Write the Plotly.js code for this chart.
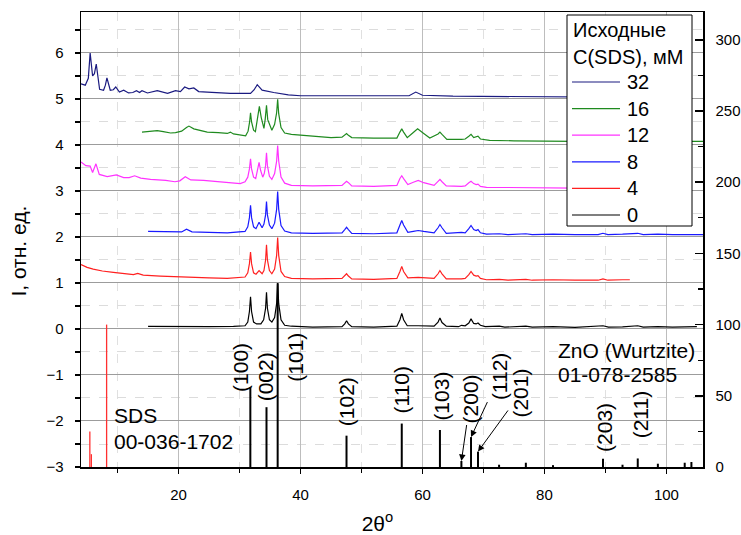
<!DOCTYPE html>
<html>
<head>
<meta charset="utf-8">
<script src="https://cdn.plot.ly/plotly-3.0.1.min.js"></script>
<style>html,body{margin:0;padding:0;background:#fff}#chart{width:741px;height:535px}</style>
</head>
<body>
<div id="chart"></div>
<script>
// ---- data ----
const seriesNames = ['32', '16', '12', '8', '4', '0'];
const seriesColors = ['#1a1a80', '#1f8a1f', '#ff33ff', '#1a1aff', '#ff2020', '#000000'];
const legendTitle = ['Исходные', 'C(SDS), мМ'];

const curve32 = [[4,5.33],[4.7,5.30],[5.2,5.45],[5.5,6.0],[5.9,5.50],[6.2,5.55],[6.5,5.76],[7.05,5.21],[7.7,5.19],[8.0,5.30],[8.25,5.46],[8.8,5.19],[9.3,5.20],[9.7,5.26],[10.3,5.15],[11.0,5.19],[11.8,5.13],[12.5,5.14],[13.1,5.18],[13.6,5.14],[14.0,5.18],[14.9,5.13],[16.5,5.18],[18.2,5.12],[19.5,5.18],[20.3,5.16],[21.0,5.26],[21.7,5.22],[22.5,5.24],[23.3,5.16],[24.7,5.15],[26.5,5.13],[28.5,5.12],[31.8,5.12],[32.4,5.2],[32.9,5.31],[33.7,5.19],[35.6,5.14],[38,5.09],[40,5.07],[45,5.07],[50,5.06],[55,5.06],[57.8,5.07],[58.9,5.15],[60,5.08],[65,5.06],[72.8,5.05],[80,5.04],[90,5.04],[97,5.04]];

const curve16 = [[14,4.28],[15.5,4.30],[16.5,4.31],[17.5,4.29],[18.7,4.26],[19.5,4.27],[20.5,4.30],[21.3,4.38],[21.7,4.41],[22.5,4.35],[24.7,4.28],[26.5,4.27],[28.0,4.25],[28.5,4.28],[29.0,4.24],[31,4.20],[31.4,4.3],[31.65,4.5],[31.8,4.70],[31.97,4.5],[32.3,4.32],[32.6,4.29],[32.9,4.55],[33.25,4.84],[33.55,4.6],[34.0,4.36],[34.2,4.55],[34.42,4.86],[34.62,4.55],[35.3,4.32],[35.75,4.45],[36.08,4.7],[36.25,4.99],[36.42,4.68],[36.8,4.38],[37.4,4.26],[38.5,4.23],[42,4.19],[45,4.16],[46.8,4.17],[47.25,4.22],[47.55,4.25],[47.85,4.21],[48.4,4.16],[52,4.15],[55.8,4.15],[56.3,4.28],[56.6,4.35],[56.9,4.28],[57.5,4.16],[58.3,4.25],[59.2,4.35],[60.2,4.25],[61.2,4.15],[62.55,4.24],[62.86,4.28],[63.2,4.23],[64,4.12],[66.4,4.12],[67.0,4.13],[67.6,4.19],[67.96,4.23],[68.4,4.16],[68.8,4.17],[69.1,4.19],[69.5,4.13],[71,4.10],[75,4.09],[80,4.09],[85,4.08],[89.6,4.10],[92,4.08],[100,4.08],[106,4.08]];

const curve12 = [[4,3.63],[4.8,3.55],[5.5,3.54],[5.9,3.40],[6.45,3.59],[7.0,3.36],[8.3,3.31],[9.8,3.35],[11.0,3.29],[11.9,3.29],[12.8,3.33],[13.8,3.28],[15.4,3.25],[17.9,3.23],[19.4,3.20],[20.2,3.22],[21.1,3.31],[22.0,3.24],[24.1,3.23],[26,3.21],[28,3.18],[30.1,3.16],[30.9,3.2],[31.35,3.3],[31.62,3.48],[31.8,3.70],[31.97,3.48],[32.3,3.3],[32.65,3.27],[32.95,3.45],[33.2,3.62],[33.45,3.45],[33.8,3.3],[34.05,3.38],[34.27,3.55],[34.42,3.83],[34.57,3.55],[34.9,3.32],[35.3,3.25],[35.75,3.38],[36.08,3.65],[36.25,3.99],[36.42,3.65],[36.8,3.3],[37.4,3.17],[38.5,3.12],[42,3.11],[46.8,3.12],[47.25,3.18],[47.55,3.21],[47.85,3.18],[48.4,3.11],[52,3.10],[55.8,3.12],[56.3,3.27],[56.6,3.33],[56.9,3.27],[57.6,3.14],[58.5,3.19],[59.3,3.23],[60.2,3.18],[61.9,3.12],[62.55,3.21],[62.86,3.25],[63.2,3.2],[63.9,3.11],[66.4,3.10],[67.0,3.11],[67.6,3.18],[67.96,3.21],[68.4,3.16],[68.8,3.14],[69.1,3.15],[69.5,3.10],[70.5,3.08],[75,3.07],[80,3.07],[85,3.06],[89.6,3.08],[92,3.06],[96,3.06]];

const curve8 = [[15,2.12],[18,2.11],[20.5,2.11],[21.3,2.17],[22.2,2.11],[25,2.10],[28,2.09],[30.9,2.12],[31.35,2.22],[31.62,2.42],[31.8,2.69],[31.97,2.42],[32.3,2.22],[32.7,2.18],[33.2,2.32],[33.7,2.2],[34.0,2.28],[34.27,2.48],[34.42,2.77],[34.57,2.48],[34.9,2.26],[35.3,2.18],[35.75,2.3],[36.08,2.6],[36.25,2.99],[36.42,2.6],[36.8,2.25],[37.4,2.13],[38.5,2.09],[42,2.08],[46.8,2.09],[47.25,2.16],[47.55,2.21],[47.85,2.16],[48.4,2.08],[52,2.07],[55.8,2.09],[56.3,2.26],[56.6,2.36],[56.9,2.26],[57.6,2.10],[58.5,2.12],[59.3,2.14],[60.2,2.12],[61.9,2.09],[62.55,2.2],[62.86,2.27],[63.2,2.2],[63.9,2.08],[66.4,2.10],[67.0,2.09],[67.6,2.18],[67.96,2.25],[68.4,2.16],[68.8,2.14],[69.1,2.16],[69.5,2.09],[70.5,2.06],[72.6,2.07],[74,2.05],[76.95,2.07],[78,2.05],[81.4,2.06],[85,2.05],[88.8,2.05],[89.6,2.08],[90.4,2.05],[92.8,2.06],[95.3,2.08],[96.2,2.05],[98.6,2.06],[101,2.05],[104.1,2.06],[106,2.05]];

const curve4 = [[4,1.40],[5,1.34],[6,1.30],[7.5,1.26],[9.3,1.23],[11,1.20],[12.6,1.18],[13.3,1.21],[14.2,1.17],[17,1.15],[20.3,1.13],[22,1.12],[25,1.11],[28,1.10],[30.9,1.13],[31.35,1.22],[31.62,1.42],[31.8,1.67],[31.97,1.42],[32.3,1.22],[32.7,1.19],[33.2,1.27],[33.7,1.2],[34.0,1.27],[34.27,1.5],[34.42,1.83],[34.57,1.5],[34.9,1.27],[35.3,1.2],[35.75,1.3],[36.08,1.6],[36.25,1.99],[36.42,1.6],[36.8,1.25],[37.4,1.14],[38.5,1.1],[42,1.09],[46.8,1.10],[47.25,1.15],[47.55,1.20],[47.85,1.15],[48.4,1.09],[52,1.08],[55.8,1.10],[56.3,1.25],[56.6,1.36],[56.9,1.25],[57.6,1.11],[59.3,1.12],[61.9,1.10],[62.55,1.2],[62.86,1.27],[63.2,1.2],[63.9,1.09],[66.4,1.09],[67.0,1.1],[67.6,1.18],[67.96,1.25],[68.4,1.17],[68.8,1.15],[69.1,1.16],[69.5,1.10],[70.5,1.07],[72.6,1.08],[74,1.06],[76.95,1.08],[78,1.06],[81.4,1.07],[85,1.06],[88.8,1.06],[89.6,1.09],[90.4,1.06],[92.8,1.07],[94,1.07]];

const curve0 = [[15,0.057],[20,0.05],[25,0.05],[29,0.055],[30.9,0.07],[31.35,0.15],[31.62,0.38],[31.8,0.70],[31.97,0.38],[32.3,0.15],[32.8,0.11],[33.5,0.11],[33.95,0.2],[34.27,0.45],[34.42,0.80],[34.57,0.45],[34.9,0.2],[35.3,0.15],[35.75,0.25],[36.08,0.55],[36.25,1.0],[36.42,0.55],[36.8,0.2],[37.4,0.08],[38.5,0.06],[42,0.04],[46.8,0.05],[47.25,0.11],[47.55,0.18],[47.85,0.11],[48.4,0.05],[52,0.04],[55.8,0.06],[56.3,0.2],[56.6,0.34],[56.9,0.2],[57.5,0.07],[59.3,0.07],[61.9,0.06],[62.55,0.15],[62.86,0.24],[63.2,0.14],[63.9,0.06],[65.9,0.05],[66.4,0.08],[67.0,0.07],[67.6,0.13],[67.96,0.22],[68.4,0.12],[68.8,0.11],[69.1,0.13],[69.5,0.08],[70.3,0.05],[72.6,0.06],[73.5,0.04],[76.95,0.06],[78,0.04],[81.4,0.05],[85,0.035],[89.6,0.07],[90.5,0.04],[92.8,0.045],[95.3,0.07],[96.2,0.04],[98.6,0.05],[101,0.04],[103,0.05],[104.1,0.06],[105,0.05]];

const curves = [curve32, curve16, curve12, curve8, curve4, curve0];

// reference stick patterns (right axis)
const znoPos = [31.77, 34.42, 36.25, 47.54, 56.6, 62.86, 66.38, 67.96, 69.1, 72.56, 76.95, 81.4, 89.6, 92.8, 95.3, 98.6, 103.0, 104.1];
const znoInt = [56, 42, 129, 22, 30.5, 26, 4.2, 21, 10.8, 1.6, 3, 1.3, 5.8, 1.6, 6, 2.3, 3, 3.5];
const znoHkl = ['(100)','(002)','(101)','(102)','(110)','(103)','(200)','(112)','(201)','','','','(203)','','(211)','','',''];
const sdsPos = [5.45, 5.7, 8.2];
const sdsInt = [25, 9, 100];

// ---- styles / placement ----
const FONT = 'Liberation Sans, Arial, sans-serif';
const labelPlace = {
  '(100)': {dx: -10, y: -0.84},
  '(002)': {dx: -1, y: -1.04},
  '(101)': {dx: 17, y: -0.61},
  '(102)': {dx: 0, y: -1.58},
  '(110)': {dx: 0, y: -1.32},
  '(103)': {dx: 2, y: -1.45},
  '(200)': {arrow: [9, -62]},
  '(112)': {arrow: [28, -60]},
  '(201)': {arrow: [43, -59]},
  '(203)': {dx: 2, y: -2.13},
  '(211)': {dx: 3, y: -1.86}
};
// legend geometry in pixels of the figure (plot area: x 81..703, y 12..467)
const PX = px => (px - 81) / 622, PY = py => (467 - py) / 455;
const legBox = {x0: 567, x1: 692, y0: 15, y1: 226};
const legTitleY = [30, 57], legRowY0 = 82, legRowDy = 26.6;

function sticks(pos, h) {
  const x = [], y = [];
  pos.forEach((p, i) => { x.push(p, p, null); y.push(0, h[i], null); });
  return {x, y};
}

const traces = [];
curves.forEach((c, i) => {
  traces.push({
    type: 'scatter', mode: 'lines', name: seriesNames[i], showlegend: false,
    x: c.map(p => p[0]), y: c.map(p => p[1]),
    line: {color: seriesColors[i], width: 1.2}
  });
});
const zs = sticks(znoPos, znoInt);
traces.push({type: 'scatter', mode: 'lines', x: zs.x, y: zs.y, yaxis: 'y2', showlegend: false,
  line: {color: '#000', width: 2}, hoverinfo: 'skip'});
const ss = sticks(sdsPos, sdsInt);
traces.push({type: 'scatter', mode: 'lines', x: ss.x, y: ss.y, yaxis: 'y2', showlegend: false,
  line: {color: '#ff3030', width: 1.3}, hoverinfo: 'skip'});

const F = s => ({family: FONT, size: s, color: '#000'});
const annotations = [];
znoHkl.forEach((t, i) => {
  if (!t) return;
  const pl = labelPlace[t];
  if (pl.arrow) {
    annotations.push({x: znoPos[i], y: znoInt[i], xref: 'x', yref: 'y2', text: t, textangle: -90,
      showarrow: true, ax: pl.arrow[0], ay: pl.arrow[1], arrowhead: 2, arrowsize: 1.3, arrowwidth: 1,
      arrowcolor: '#000', standoff: 0, font: F(21)});
  } else {
    annotations.push({x: znoPos[i], y: pl.y, xref: 'x', yref: 'y', xshift: pl.dx, text: t,
      textangle: -90, showarrow: false, xanchor: 'center', yanchor: 'middle', font: F(21)});
  }
});
const txt = (x, y, t) => ({x, y, xref: 'x', yref: 'y', text: t, showarrow: false, xanchor: 'left',
  yanchor: 'middle', font: F(21)});
annotations.push(txt(9.15, -1.89, 'SDS'));
annotations.push(txt(9.15, -2.45, '00-036-1702'));
annotations.push(txt(81.9, -0.46, 'ZnO (Wurtzite)'));
annotations.push(txt(81.9, -1.0, '01-078-2585'));

// legend (drawn as shapes + texts)
const shapes = [{type: 'rect', xref: 'paper', yref: 'paper', layer: 'above',
  x0: PX(legBox.x0), x1: PX(legBox.x1), y0: PY(legBox.y1), y1: PY(legBox.y0),
  fillcolor: '#fff', line: {color: '#000', width: 1}}];
legendTitle.forEach((t, k) => annotations.push({x: PX(571), y: PY(legTitleY[k]), xref: 'paper', yref: 'paper',
  text: t, xanchor: 'left', yanchor: 'middle', showarrow: false, font: F(20)}));
seriesNames.forEach((n, i) => {
  const py = legRowY0 + i * legRowDy;
  shapes.push({type: 'line', xref: 'paper', yref: 'paper', layer: 'above',
    x0: PX(572), x1: PX(620), y0: PY(py), y1: PY(py), line: {color: seriesColors[i], width: 1.2}});
  annotations.push({x: PX(625), y: PY(py), xref: 'paper', yref: 'paper', text: n, xanchor: 'left',
    yanchor: 'middle', showarrow: false, font: F(20)});
});

const layout = {
  width: 741, height: 535,
  margin: {l: 81, r: 38, t: 12, b: 68},
  paper_bgcolor: '#fff', plot_bgcolor: '#fff',
  font: {family: FONT, size: 15, color: '#000'},
  showlegend: false,
  xaxis: {
    title: {text: '2θ<sup>o</sup>&nbsp;&nbsp;&nbsp;&nbsp;&nbsp;', font: F(21), standoff: 16},
    range: [4, 106], tick0: 0, dtick: 20, ticks: 'outside', ticklen: 5, tickwidth: 1.5, tickcolor: '#000',
    showline: true, linewidth: 1.5, linecolor: '#000', mirror: true, zeroline: false,
    showgrid: true, gridcolor: '#bdbdbd', gridwidth: 1.5, ticklabelstandoff: 8,
    tickfont: {size: 15}, automargin: false,
    minor: {tick0: 0, dtick: 10, ticks: 'outside', ticklen: 4, tickcolor: '#000', tickwidth: 1.2,
      showgrid: true, gridcolor: '#e0e0e0', griddash: 'dash', gridwidth: 1}
  },
  yaxis: {
    title: {text: 'I, отн. ед.&nbsp;&nbsp;&nbsp;&nbsp;', font: F(21), standoff: 14},
    range: [-3, 6.89], tick0: 0, dtick: 1, ticks: 'outside', ticklen: 5, tickwidth: 1.5, tickcolor: '#000',
    showline: true, linewidth: 1.5, linecolor: '#000', zeroline: false,
    showgrid: true, gridcolor: '#9c9c9c', gridwidth: 1, ticklabelstandoff: 8,
    tickfont: {size: 15}, automargin: false,
    minor: {tick0: 0, dtick: 0.5, ticks: 'outside', ticklen: 5, tickcolor: '#000', tickwidth: 1.2,
      showgrid: true, gridcolor: '#dcdcdc', griddash: 'dash', gridwidth: 1}
  },
  yaxis2: {
    overlaying: 'y', side: 'right', range: [0, 319.5], tick0: 0, dtick: 50,
    ticks: 'inside', ticklen: 8, tickwidth: 1.5, tickcolor: '#000',
    showline: true, linewidth: 1.5, linecolor: '#000', showgrid: false, zeroline: false,
    ticklabelstandoff: 8, tickfont: {size: 15},
    minor: {tick0: 0, dtick: 25, ticks: 'inside', ticklen: 5, tickcolor: '#000', tickwidth: 1.2, showgrid: false}
  },
  shapes: shapes,
  annotations: annotations
};

Plotly.newPlot('chart', traces, layout, {displayModeBar: false, staticPlot: true}).then(() => {
  // drop empty helper text nodes left over from measuring
  document.querySelectorAll('text').forEach(t => {
    if (!t.textContent.replace(/\s|\u00a0/g, '')) t.remove();
  });
});
</script>
</body>
</html>
